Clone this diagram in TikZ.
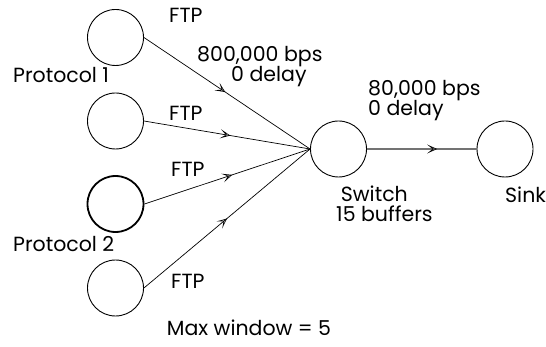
\documentclass[tikz,border=0pt]{standalone}
\usepackage{fontspec}
\setmainfont{Poppins}
\usetikzlibrary{arrows.meta,decorations.markings}
\tikzset{
  host/.style={circle, draw, line width=0.9pt, minimum size=56pt, inner sep=0pt},
  boldhost/.style={host, line width=1.8pt},
  lbl/.style={font=\fontsize{20.5}{22}\selectfont, inner sep=0pt, anchor=base west},
  midtip/.style={decoration={markings, mark=at position #1 with {\arrow{Stealth[open, length=10pt, width=9pt, inset=5.5pt, line width=0.6pt, color=black]}}}, postaction={decorate}},
  link/.style={line width=0.7pt},
  trunk/.style={line width=1.8pt, draw=black!55}
}
\begin{document}
\begin{tikzpicture}[x=1pt, y=-1pt]
  \useasboundingbox (0,0) rectangle (546,347);
  % sources, switch and sink
  \node[host]     (c1)   at (115.5,37.5) {};
  \node[host]     (c2)   at (115.5,121)  {};
  \node[boldhost] (c3)   at (115.5,204)  {};
  \node[host]     (c4)   at (115.5,288)  {};
  \node[host]     (sw)   at (338.5,149)  {};
  \node[host]     (sink) at (505,149)    {};
  % access links
  \draw[link, midtip=0.49] (c1.east) -- (sw.west);
  \draw[link, midtip=0.52] (c2.east) -- (sw.west);
  \draw[link, midtip=0.53] (c3.east) -- (sw.west);
  \draw[link, midtip=0.50] (c4.east) -- (sw.west);
  % bottleneck link
  \draw[trunk, midtip=0.64] (sw.east) -- (sink.west);
  % labels
  \node[lbl] (f1) at (169,23)    {FTP};
  \node[lbl] (f2) at (169,120.7) {FTP};
  \node[lbl] (f3) at (171,176.7) {FTP};
  \node[lbl] (f4) at (171,288)   {FTP};
  \node[lbl] (p1) at (13,83)     {Protocol 1};
  \node[lbl] (p2) at (13,251.7)  {Protocol 2};
  \node[lbl] (r1) at (197,61.7)  {800,000 bps};
  \node[lbl] (d1) at (231,81.7)  {0 delay};
  \node[lbl] (r2) at (368,96)    {80,000 bps};
  \node[lbl] (d2) at (368,115.5) {0 delay};
  % the two switch lines sit very close, so their boxes are trimmed
  \node[lbl, text depth=0pt]   (s1) at (340.7,201.5) {Switch};
  \node[lbl, text height=12pt] (s2) at (336,222)     {15 buffers};
  \node[lbl] (k1) at (505,202.7) {Sink};
  \node[lbl] (mw) at (166.7,335) {Max window = 5};
\end{tikzpicture}
\end{document}
